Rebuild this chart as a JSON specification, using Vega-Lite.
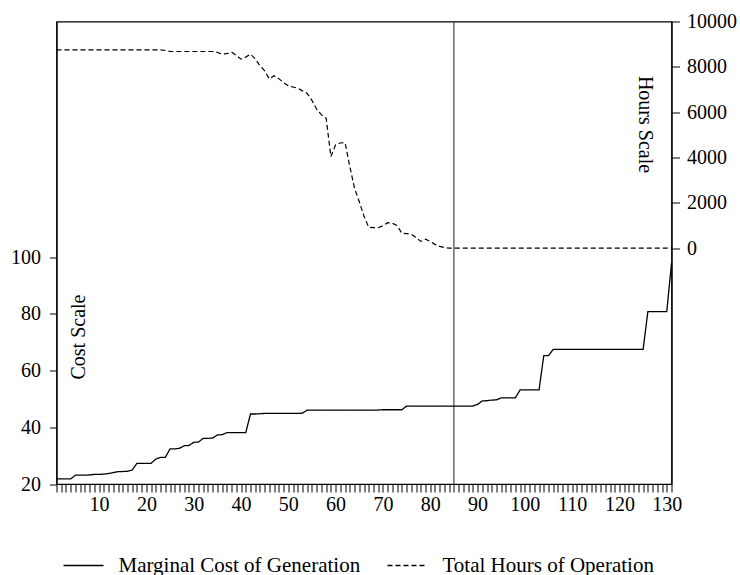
{
  "$schema": "https://vega.github.io/schema/vega-lite/v6.json",
  "autosize": {"type": "none"},
  "padding": {"left": 56.5, "top": 21.5, "right": 68.5, "bottom": 91},
  "width": 615,
  "height": 462.5,
  "background": "white",
  "config": {
    "view": {"stroke": "black", "strokeWidth": 1.2},
    "axis": {
      "grid": false,
      "domainColor": "black",
      "domainWidth": 1.2,
      "tickColor": "black",
      "tickWidth": 1,
      "labelColor": "black",
      "labelFont": "Liberation Serif",
      "labelFontSize": 20,
      "titleFont": "Liberation Serif",
      "titleFontSize": 20,
      "titleFontWeight": "normal",
      "titleColor": "black"
    },
    "legend": {
      "labelFont": "Liberation Serif",
      "labelFontSize": 21,
      "labelColor": "black",
      "labelLimit": 400
    }
  },
  "datasets": {
    "cost": [
      {"x":1,"cost":21.8},{"x":2,"cost":21.8},{"x":3,"cost":21.8},{"x":4,"cost":21.8},{"x":5,"cost":23.1},
      {"x":6,"cost":23.1},{"x":7,"cost":23.1},{"x":8,"cost":23.2},{"x":9,"cost":23.4},{"x":10,"cost":23.4},
      {"x":11,"cost":23.5},{"x":12,"cost":23.7},{"x":13,"cost":24.0},{"x":14,"cost":24.4},{"x":15,"cost":24.4},
      {"x":16,"cost":24.5},{"x":17,"cost":24.9},{"x":18,"cost":27.3},{"x":19,"cost":27.3},{"x":20,"cost":27.3},
      {"x":21,"cost":27.3},{"x":22,"cost":28.8},{"x":23,"cost":29.4},{"x":24,"cost":29.4},{"x":25,"cost":32.4},
      {"x":26,"cost":32.4},{"x":27,"cost":32.6},{"x":28,"cost":33.5},{"x":29,"cost":33.6},{"x":30,"cost":34.7},
      {"x":31,"cost":34.8},{"x":32,"cost":36.1},{"x":33,"cost":36.1},{"x":34,"cost":36.2},{"x":35,"cost":37.3},
      {"x":36,"cost":37.4},{"x":37,"cost":38.1},{"x":38,"cost":38.1},{"x":39,"cost":38.1},{"x":40,"cost":38.1},
      {"x":41,"cost":38.1},{"x":42,"cost":44.7},{"x":43,"cost":44.7},{"x":44,"cost":44.8},{"x":45,"cost":44.9},
      {"x":46,"cost":44.9},{"x":47,"cost":44.9},{"x":48,"cost":44.9},{"x":49,"cost":44.9},{"x":50,"cost":44.9},
      {"x":51,"cost":44.9},{"x":52,"cost":44.9},{"x":53,"cost":45.0},{"x":54,"cost":46.1},{"x":55,"cost":46.1},
      {"x":56,"cost":46.1},{"x":57,"cost":46.1},{"x":58,"cost":46.1},{"x":59,"cost":46.1},{"x":60,"cost":46.1},
      {"x":61,"cost":46.1},{"x":62,"cost":46.1},{"x":63,"cost":46.1},{"x":64,"cost":46.1},{"x":65,"cost":46.1},
      {"x":66,"cost":46.1},{"x":67,"cost":46.1},{"x":68,"cost":46.1},{"x":69,"cost":46.1},{"x":70,"cost":46.2},
      {"x":71,"cost":46.2},{"x":72,"cost":46.2},{"x":73,"cost":46.2},{"x":74,"cost":46.2},{"x":75,"cost":47.5},
      {"x":76,"cost":47.5},{"x":77,"cost":47.5},{"x":78,"cost":47.5},{"x":79,"cost":47.5},{"x":80,"cost":47.5},
      {"x":81,"cost":47.5},{"x":82,"cost":47.5},{"x":83,"cost":47.5},{"x":84,"cost":47.5},{"x":85,"cost":47.5},
      {"x":86,"cost":47.5},{"x":87,"cost":47.5},{"x":88,"cost":47.5},{"x":89,"cost":47.5},{"x":90,"cost":48.1},
      {"x":91,"cost":49.3},{"x":92,"cost":49.4},{"x":93,"cost":49.6},{"x":94,"cost":49.7},{"x":95,"cost":50.4},
      {"x":96,"cost":50.4},{"x":97,"cost":50.4},{"x":98,"cost":50.4},{"x":99,"cost":53.2},{"x":100,"cost":53.2},
      {"x":101,"cost":53.2},{"x":102,"cost":53.2},{"x":103,"cost":53.2},{"x":104,"cost":65.3},{"x":105,"cost":65.3},
      {"x":106,"cost":67.5},{"x":107,"cost":67.5},{"x":108,"cost":67.5},{"x":109,"cost":67.5},{"x":110,"cost":67.5},
      {"x":111,"cost":67.5},{"x":112,"cost":67.5},{"x":113,"cost":67.5},{"x":114,"cost":67.5},{"x":115,"cost":67.5},
      {"x":116,"cost":67.5},{"x":117,"cost":67.5},{"x":118,"cost":67.5},{"x":119,"cost":67.5},{"x":120,"cost":67.5},
      {"x":121,"cost":67.5},{"x":122,"cost":67.5},{"x":123,"cost":67.5},{"x":124,"cost":67.5},{"x":125,"cost":67.5},
      {"x":126,"cost":80.8},{"x":127,"cost":80.8},{"x":128,"cost":80.8},{"x":129,"cost":80.8},{"x":130,"cost":80.8},
      {"x":131,"cost":97.9}
    ],
    "hours": [
      {"x":1,"hours":8750},{"x":2,"hours":8750},{"x":3,"hours":8750},{"x":4,"hours":8750},{"x":5,"hours":8750},
      {"x":6,"hours":8750},{"x":7,"hours":8750},{"x":8,"hours":8750},{"x":9,"hours":8750},{"x":10,"hours":8750},
      {"x":11,"hours":8750},{"x":12,"hours":8750},{"x":13,"hours":8750},{"x":14,"hours":8750},{"x":15,"hours":8750},
      {"x":16,"hours":8750},{"x":17,"hours":8750},{"x":18,"hours":8750},{"x":19,"hours":8750},{"x":20,"hours":8750},
      {"x":21,"hours":8750},{"x":22,"hours":8750},{"x":23,"hours":8750},{"x":24,"hours":8720},{"x":25,"hours":8676},
      {"x":26,"hours":8676},{"x":27,"hours":8676},{"x":28,"hours":8676},{"x":29,"hours":8676},{"x":30,"hours":8676},
      {"x":31,"hours":8676},{"x":32,"hours":8676},{"x":33,"hours":8676},{"x":34,"hours":8676},{"x":35,"hours":8640},
      {"x":36,"hours":8560},{"x":37,"hours":8580},{"x":38,"hours":8660},{"x":39,"hours":8500},{"x":40,"hours":8340},
      {"x":41,"hours":8430},{"x":42,"hours":8560},{"x":43,"hours":8360},{"x":44,"hours":8050},{"x":45,"hours":7820},
      {"x":46,"hours":7470},{"x":47,"hours":7610},{"x":48,"hours":7480},{"x":49,"hours":7300},{"x":50,"hours":7160},
      {"x":51,"hours":7110},{"x":52,"hours":7060},{"x":53,"hours":6940},{"x":54,"hours":6830},{"x":55,"hours":6520},
      {"x":56,"hours":6130},{"x":57,"hours":5880},{"x":58,"hours":5735},{"x":59,"hours":4040},{"x":60,"hours":4560},
      {"x":61,"hours":4640},{"x":62,"hours":4658},{"x":63,"hours":3600},{"x":64,"hours":2650},{"x":65,"hours":2050},
      {"x":66,"hours":1420},{"x":67,"hours":920},{"x":68,"hours":905},{"x":69,"hours":905},{"x":70,"hours":990},
      {"x":71,"hours":1126},{"x":72,"hours":1100},{"x":73,"hours":1000},{"x":74,"hours":658},{"x":75,"hours":640},
      {"x":76,"hours":620},{"x":77,"hours":480},{"x":78,"hours":300},{"x":79,"hours":400},{"x":80,"hours":300},
      {"x":81,"hours":170},{"x":82,"hours":80},{"x":83,"hours":30},{"x":84,"hours":0},{"x":85,"hours":0},
      {"x":86,"hours":0},{"x":87,"hours":0},{"x":88,"hours":0},{"x":89,"hours":0},{"x":90,"hours":0},
      {"x":91,"hours":0},{"x":92,"hours":0},{"x":93,"hours":0},{"x":94,"hours":0},{"x":95,"hours":0},
      {"x":96,"hours":0},{"x":97,"hours":0},{"x":98,"hours":0},{"x":99,"hours":0},{"x":100,"hours":0},
      {"x":101,"hours":0},{"x":102,"hours":0},{"x":103,"hours":0},{"x":104,"hours":0},{"x":105,"hours":0},
      {"x":106,"hours":0},{"x":107,"hours":0},{"x":108,"hours":0},{"x":109,"hours":0},{"x":110,"hours":0},
      {"x":111,"hours":0},{"x":112,"hours":0},{"x":113,"hours":0},{"x":114,"hours":0},{"x":115,"hours":0},
      {"x":116,"hours":0},{"x":117,"hours":0},{"x":118,"hours":0},{"x":119,"hours":0},{"x":120,"hours":0},
      {"x":121,"hours":0},{"x":122,"hours":0},{"x":123,"hours":0},{"x":124,"hours":0},{"x":125,"hours":0},
      {"x":126,"hours":0},{"x":127,"hours":0},{"x":128,"hours":0},{"x":129,"hours":0},{"x":130,"hours":0},
      {"x":131,"hours":0}
    ],
    "marker": [{"x": 85}]
  },
  "encoding": {
    "x": {
      "field": "x", "type": "quantitative",
      "scale": {"domain": [1, 131], "nice": false, "zero": false},
      "axis": {
        "title": null,
        "tickCount": 130,
        "labelExpr": "datum.value % 10 === 0 ? format(datum.value, 'd') : ''",
        "labelOverlap": false,
        "labelFlush": false,
        "labelBound": false,
        "tickSize": 8,
        "labelPadding": 2
      }
    }
  },
  "layer": [
    {
      "data": {"name": "marker"},
      "mark": {"type": "rule", "color": "#444444", "strokeWidth": 1.2}
    },
    {
      "data": {"name": "cost"},
      "mark": {"type": "line", "color": "black", "strokeWidth": 1.3},
      "encoding": {
        "y": {
          "field": "cost", "type": "quantitative",
          "scale": {"domain": [20, 183.2], "nice": false, "zero": false},
          "axis": {
            "orient": "left",
            "values": [20, 40, 60, 80, 100],
            "tickSize": 7,
            "labelPadding": 9,
            "title": "Cost Scale",
            "titleAngle": 270,
            "titleX": 21.5,
            "titleY": 315,
            "titleAlign": "center",
            "titleBaseline": "middle"
          }
        },
        "strokeDash": {
          "datum": "Marginal Cost of Generation",
          "scale": {"domain": ["Marginal Cost of Generation", "Total Hours of Operation"], "range": [[1, 0], [5, 3]]},
          "legend": {
            "title": null,
            "orient": "none",
            "legendX": 6,
            "legendY": 523,
            "direction": "horizontal",
            "symbolType": "stroke",
            "symbolSize": 1600,
            "symbolStrokeWidth": 1.3,
            "symbolStrokeColor": "black",
            "labelOffset": 14,
            "columnPadding": 24,
            "labelLimit": 400,
            "padding": 0
          }
        }
      }
    },
    {
      "data": {"name": "hours"},
      "mark": {"type": "line", "color": "black", "strokeWidth": 1.2},
      "encoding": {
        "y": {
          "field": "hours", "type": "quantitative",
          "scale": {"domain": [-10400, 10000], "nice": false, "zero": false},
          "axis": {
            "orient": "right",
            "values": [0, 2000, 4000, 6000, 8000, 10000],
            "format": "d",
            "tickSize": 8,
            "labelPadding": 7,
            "title": "Hours Scale",
            "titleAngle": 90,
            "titleX": -26.7,
            "titleY": 102.5,
            "titleAlign": "center",
            "titleBaseline": "middle"
          }
        },
        "strokeDash": {"datum": "Total Hours of Operation"}
      }
    }
  ],
  "resolve": {"scale": {"y": "independent"}}
}
